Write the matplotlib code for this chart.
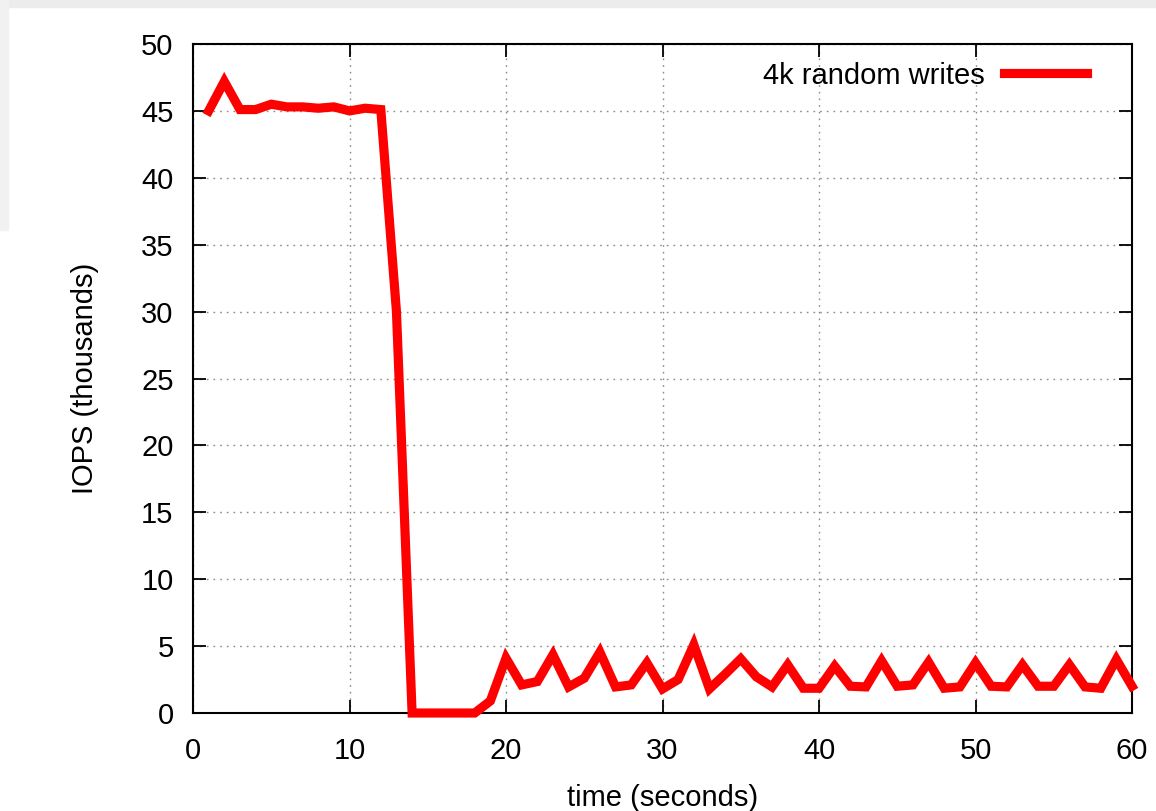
import matplotlib

matplotlib.use("Agg")
import matplotlib.pyplot as plt
from matplotlib.patches import Rectangle

# IOPS (thousands) sampled once per second
seconds = list(range(1, 61))
iops_thousands = [
    45.0, 47.2, 45.1, 45.1, 45.5, 45.3, 45.3, 45.2, 45.3, 45.0,
    45.2, 45.1, 30.0, 0.0, 0.0, 0.0, 0.0, 0.0, 0.9, 4.1,
    2.1, 2.35, 4.35, 1.95, 2.6, 4.55, 1.95, 2.1, 3.75, 1.8,
    2.5, 5.1, 1.8, 2.9, 4.05, 2.7, 1.95, 3.6, 1.85, 1.85,
    3.5, 2.0, 1.95, 3.9, 2.0, 2.1, 3.8, 1.85, 1.95, 3.75,
    2.0, 1.95, 3.6, 2.0, 2.0, 3.6, 1.95, 1.85, 4.0, 2.0,
]
series_label = "4k random writes"
x_ticks = [0, 10, 20, 30, 40, 50, 60]
y_ticks = [0, 5, 10, 15, 20, 25, 30, 35, 40, 45, 50]

plt.rcParams["font.family"] = ["Liberation Sans", "DejaVu Sans"]

fig = plt.figure(figsize=(11.56, 8.11), dpi=100)
fig.patch.set_facecolor("white")
# light grey frame of the screenshot
fig.patches.append(Rectangle((0, 1 - 7 / 811), 1, 7 / 811, transform=fig.transFigure,
                             color="#ececec", zorder=0))
fig.patches.append(Rectangle((0, 1 - 230 / 811), 8 / 1156, 230 / 811, transform=fig.transFigure,
                             color="#f1f1f1", zorder=0))

ax = fig.add_axes([193 / 1156, 98 / 811, 939 / 1156, 669 / 811])

ax.plot(seconds, iops_thousands, color="#ff0000", linewidth=6.6,
        solid_joinstyle="miter", clip_on=False, label=series_label, zorder=3)

ax.set_xlim(0, 60)
ax.set_ylim(0, 50)
ax.set_xticks(x_ticks)
ax.set_yticks(y_ticks)
ax.tick_params(direction="in", length=9.5, width=1.3, labelsize=21,
               top=True, right=True, colors="black")
ax.tick_params(axis="x", pad=17)
ax.tick_params(axis="y", pad=14)
ax.grid(True, color="#8a8a8a", linewidth=1.0, linestyle=(0, (1.2, 3.6)))
ax.set_axisbelow(True)
for spine in ax.spines.values():
    spine.set_linewidth(1.5)
    spine.set_color("black")

ax.set_xlabel("time (seconds)", fontsize=21, labelpad=14)
ax.set_ylabel("IOPS (thousands)", fontsize=21, labelpad=30)

leg = ax.legend(loc="upper right", frameon=False, markerfirst=False, fontsize=21,
                handlelength=2.85, handletextpad=0.65, borderaxespad=0.2,
                bbox_to_anchor=(0.9705, 1.0))
for line in leg.get_lines():
    line.set_linewidth(6.6)

fig.savefig("out.png", dpi=100)
